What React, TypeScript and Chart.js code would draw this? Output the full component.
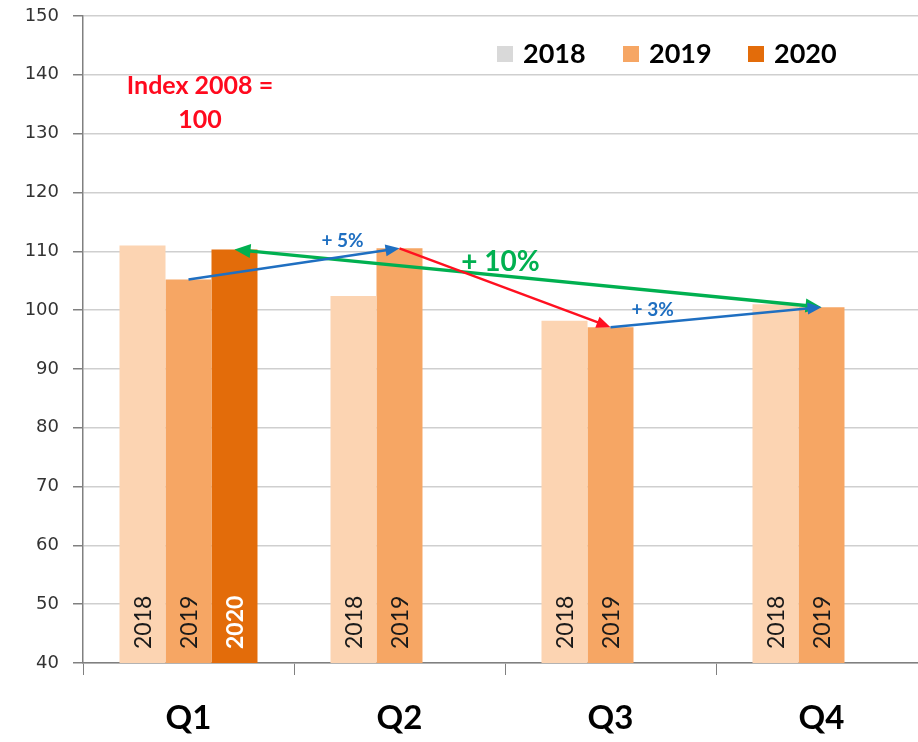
import React, { useEffect, useRef } from 'react';
import { Chart, registerables } from 'chart.js';

Chart.register(...registerables);

// ---- data ----
const quarters = ['Q1', 'Q2', 'Q3', 'Q4'];
const years = ['2018', '2019', '2020'];
const values2018 = [111, 102.4, 98.2, 101];
const values2019 = [105.2, 110.5, 97.1, 100.5];
const values2020: (number | null)[] = [110.3, null, null, null];
const yMin = 40;
const yMax = 150;
const yStep = 10;
const indexNote = ['Index 2008 =', '100'];
// arrows between bars: [datasetIndex, categoryIndex]
const arrowFrom = [[1, 0], [1, 1], [1, 2], [2, 0]];
const arrowTo = [[1, 1], [1, 2], [1, 3], [1, 3]];
const arrowLabels = ['+ 5%', '', '+ 3%', '+ 10%'];

// ---- styles ----
const barColors = ['#fcd4b2', '#f6a664', '#e36c0a'];
const legendColors = ['#d9d9d9', '#f6a664', '#e36c0a'];
const barLabelColors = ['#1a1a1a', '#1a1a1a', '#ffffff'];
const arrowColors = ['#1f6fc1', '#ff1020', '#1f6fc1', '#00b050'];

const series = [values2018, values2019, values2020];

function drawArrowHead(ctx: CanvasRenderingContext2D, x1: number, y1: number, x2: number, y2: number, len: number, half: number) {
  const ang = Math.atan2(y2 - y1, x2 - x1);
  ctx.beginPath();
  ctx.moveTo(x2, y2);
  ctx.lineTo(x2 - len * Math.cos(ang) + half * Math.sin(ang), y2 - len * Math.sin(ang) - half * Math.cos(ang));
  ctx.lineTo(x2 - len * Math.cos(ang) - half * Math.sin(ang), y2 - len * Math.sin(ang) + half * Math.cos(ang));
  ctx.closePath();
  ctx.fill();
}

const annotate = {
  id: 'annotate',
  afterDatasetsDraw(chart: any) {
    const ctx: CanvasRenderingContext2D = chart.ctx;
    const area = chart.chartArea;
    // bar labels
    series.forEach((_, di) => {
      const meta = chart.getDatasetMeta(di);
      meta.data.forEach((el: any, i: number) => {
        if (series[di][i] == null) return;
        ctx.save();
        ctx.translate(el.x, area.bottom - 14);
        ctx.rotate(-Math.PI / 2);
        ctx.font = (di === 2 ? 'bold ' : '') + '23px Lato';
        ctx.fillStyle = barLabelColors[di];
        ctx.textAlign = 'left';
        ctx.textBaseline = 'middle';
        ctx.fillText(years[di], 0, 1);
        ctx.restore();
      });
    });

    // arrows (green first)
    const order = [3, 0, 1, 2];
    order.forEach((k) => {
      const a = chart.getDatasetMeta(arrowFrom[k][0]).data[arrowFrom[k][1]];
      const b = chart.getDatasetMeta(arrowTo[k][0]).data[arrowTo[k][1]];
      const x1 = a.x, y1 = a.y, x2 = b.x, y2 = b.y;
      const dbl = k === 3;
      const len = dbl ? 16 : 14;
      const half = dbl ? 7 : 6;
      const d = Math.hypot(x2 - x1, y2 - y1);
      const ux = (x2 - x1) / d, uy = (y2 - y1) / d;
      ctx.save();
      ctx.strokeStyle = arrowColors[k];
      ctx.fillStyle = arrowColors[k];
      ctx.lineWidth = dbl ? 3.5 : 2.5;
      ctx.beginPath();
      ctx.moveTo(dbl ? x1 + ux * (len - 2) : x1, dbl ? y1 + uy * (len - 2) : y1);
      ctx.lineTo(x2 - ux * (len - 2), y2 - uy * (len - 2));
      ctx.stroke();
      drawArrowHead(ctx, x1, y1, x2, y2, len, half);
      if (dbl) drawArrowHead(ctx, x2, y2, x1, y1, len, half);
      ctx.restore();
    });

    // arrow labels
    const labelPos = [
      { k: 0, t: 0.73, dy: -16, size: 19 },
      { k: 2, t: 0.2, dy: -13, size: 19 },
      { k: 3, t: 0.453, dy: -14, size: 28 },
    ];
    labelPos.forEach(({ k, t, dy, size }) => {
      const a = chart.getDatasetMeta(arrowFrom[k][0]).data[arrowFrom[k][1]];
      const b = chart.getDatasetMeta(arrowTo[k][0]).data[arrowTo[k][1]];
      const x = a.x + (b.x - a.x) * t;
      const y = a.y + (b.y - a.y) * t + dy;
      ctx.save();
      ctx.font = `bold ${size}px Lato`;
      ctx.fillStyle = arrowColors[k];
      ctx.textAlign = 'center';
      ctx.textBaseline = 'middle';
      ctx.fillText(arrowLabels[k], x, y);
      ctx.restore();
    });

    // index note
    ctx.save();
    ctx.font = 'bold 25px Lato';
    ctx.fillStyle = '#ff0a1e';
    ctx.textAlign = 'center';
    ctx.textBaseline = 'middle';
    const nx = area.left + 117;
    ctx.fillText(indexNote[0], nx, area.top + 70);
    ctx.fillText(indexNote[1], nx, area.top + 104);
    ctx.restore();

    // legend
    ctx.save();
    ctx.font = 'bold 27px Lato';
    ctx.textAlign = 'left';
    ctx.textBaseline = 'middle';
    const lx = [497, 623, 748];
    years.forEach((yr, i) => {
      ctx.fillStyle = legendColors[i];
      ctx.fillRect(lx[i], 46, 16, 16);
      ctx.fillStyle = '#000';
      ctx.fillText(yr, lx[i] + 26, 54);
    });
    ctx.restore();
  },
};

export default function App() {
  const ref = useRef<HTMLCanvasElement | null>(null);
  useEffect(() => {
    if (!ref.current) return;
    const chart = new Chart(ref.current, {
      type: 'bar',
      data: {
        labels: quarters,
        datasets: years.map((y, i) => ({
          label: y,
          data: series[i],
          backgroundColor: barColors[i],
          borderWidth: 0,
          categoryPercentage: 0.654,
          barPercentage: 1,
        })),
      },
      options: {
        responsive: false,
        animation: false,
        layout: { padding: { top: 16, right: 1, left: 0, bottom: 0 } },
        plugins: { legend: { display: false }, tooltip: { enabled: false } },
        scales: {
          x: {
            grid: { drawOnChartArea: false, drawTicks: true, tickLength: 12, color: '#808080', offset: true },
            border: { color: '#808080', width: 1.5 },
            ticks: { font: { family: 'Lato', size: 33, weight: 'bold' }, color: '#000', padding: 24 },
            afterFit: (s: any) => { s.height = 79; },
          },
          y: {
            min: yMin,
            max: yMax,
            ticks: { stepSize: yStep, font: { family: 'DejaVu Sans', size: 18 }, color: '#333333', padding: 14 },
            grid: { color: '#cfcfcf', tickLength: 10, tickColor: '#808080', lineWidth: 1.5 },
            border: { color: '#808080', width: 1.5 },
            afterFit: (s: any) => { s.width = 83; s.paddingTop = 0; s.paddingBottom = 0; },
          },
        },
      },
      plugins: [annotate],
    } as any);
    return () => chart.destroy();
  }, []);
  return (
    <div style={{ position: 'fixed', left: 0, top: 0, width: 918, height: 742, overflow: 'hidden', background: '#fff' }}>
      <canvas ref={ref} width={928} height={742} style={{ display: 'block' }} />
    </div>
  );
}
